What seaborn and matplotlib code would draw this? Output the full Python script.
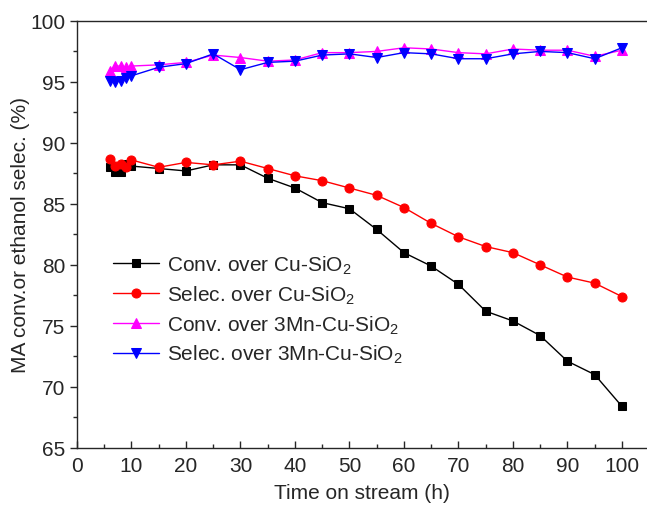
import matplotlib
matplotlib.use("Agg")
import matplotlib.pyplot as plt
import numpy as np
import pandas as pd
import seaborn as sns

# time on stream (h)
hours = [6, 7, 8, 9, 10, 15, 20, 25, 30, 35, 40, 45, 50, 55, 60, 65, 70, 75, 80, 85, 90, 95, 100]

conv_cu = [88.0, 87.6, 87.6, 88.3, 88.1, 87.9, 87.7, 88.2, 88.2, 87.1, 86.3, 85.1, 84.6, 82.9,
           81.0, 79.9, 78.4, 76.2, 75.4, 74.2, 72.1, 71.0, 68.4]
selec_cu = [88.7, 88.1, 88.3, 88.0, 88.6, 88.0, 88.4, 88.2, 88.5, 87.9, 87.3, 86.9, 86.3, 85.7,
            84.7, 83.4, 82.3, 81.5, 81.0, 80.0, 79.0, 78.5, 77.4]
conv_mn = [95.9, 96.3, 96.3, 96.2, 96.3, 96.4, 96.6, 97.2, 97.0, 96.7, 96.8, 97.4, 97.4, 97.5,
           97.8, 97.7, 97.4, 97.3, 97.7, 97.6, 97.6, 97.1, 97.6]
selec_mn = [95.1, 95.0, 95.1, 95.3, 95.5, 96.2, 96.5, 97.3, 96.0, 96.6, 96.7, 97.2, 97.3, 97.0,
            97.4, 97.3, 96.9, 96.9, 97.3, 97.5, 97.4, 96.9, 97.8]

labels = ["Conv. over Cu-SiO$_2$", "Selec. over Cu-SiO$_2$",
          "Conv. over 3Mn-Cu-SiO$_2$", "Selec. over 3Mn-Cu-SiO$_2$"]
series = [conv_cu, selec_cu, conv_mn, selec_mn]
colors = ["black", "red", "magenta", "blue"]
markers = ["s", "o", "^", "v"]
msizes = [5.5, 6.5, 7, 7]

sns.set_style("ticks")
plt.rcParams["font.family"] = ["Liberation Sans", "DejaVu Sans"]
plt.rcParams["mathtext.fontset"] = "custom"
plt.rcParams["mathtext.rm"] = "Liberation Sans"

fig = plt.figure(figsize=(6.47, 5.10), dpi=100)
ax = fig.add_axes([0.119, 0.12, 0.881, 0.837])

for vals, lab, c, m, ms in zip(series, labels, colors, markers, msizes):
    df = pd.DataFrame({"h": hours, "v": vals})
    sns.lineplot(data=df, x="h", y="v", ax=ax, color=c, marker=m, markersize=ms,
                 markeredgecolor=c, linewidth=1.0, label=lab)

ax.set_xlim(0, 104.6)
ax.set_ylim(65, 100)
ax.set_xticks(np.arange(0, 101, 10))
ax.set_xticks(np.arange(5, 101, 10), minor=True)
ax.set_yticks(np.arange(65, 101, 5))
ax.set_yticks(np.arange(67.5, 100, 5), minor=True)
ax.tick_params(axis="x", which="both", direction="in", labelsize=15, pad=6)
ax.tick_params(axis="y", which="both", direction="out", labelsize=15)
ax.tick_params(which="major", length=5, width=1)
ax.tick_params(which="minor", length=3, width=1)
ax.spines["right"].set_visible(False)
for s in ["left", "bottom", "top"]:
    ax.spines[s].set_linewidth(1.0)

ax.set_xlabel("Time on stream (h)", fontsize=15, labelpad=6)
ax.set_ylabel("MA conv.or ethanol selec. (%)", fontsize=15, labelpad=0)

ax.legend(loc="upper left", bbox_to_anchor=(0.064, 0.456), frameon=False, fontsize=15,
          handlelength=2.2, handletextpad=0.35, labelspacing=0.35, borderaxespad=0,
          borderpad=0)

fig.savefig("out.png", dpi=100)
